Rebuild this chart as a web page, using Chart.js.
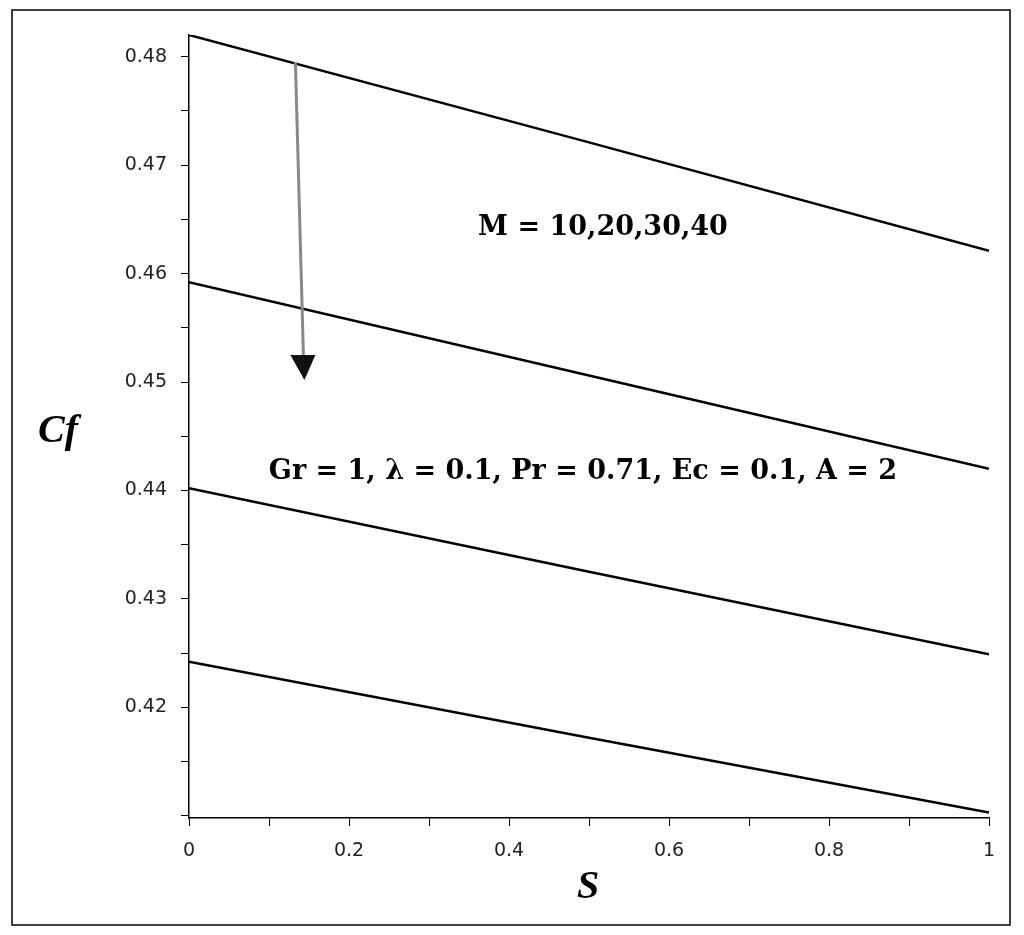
<!DOCTYPE html>
<html><head><meta charset="utf-8">
<script src="https://cdn.jsdelivr.net/npm/chart.js@4"></script>
<style>html,body{margin:0;padding:0;background:#fff}#c{display:block}</style>
</head><body>
<canvas id="c" width="1024" height="935"></canvas>
<script>
var s_values = [0, 0.5, 1];
var cf_m10 = [0.4820, 0.4721, 0.4621];
var cf_m20 = [0.4592, 0.4506, 0.4420];
var cf_m30 = [0.4402, 0.4325, 0.4249];
var cf_m40 = [0.4242, 0.4172, 0.4103];
var x_ticks = [0, 0.1, 0.2, 0.3, 0.4, 0.5, 0.6, 0.7, 0.8, 0.9, 1];
var x_labels = ['0', '0.2', '0.4', '0.6', '0.8', '1'];
var y_ticks = [0.41, 0.415, 0.42, 0.425, 0.43, 0.435, 0.44, 0.445, 0.45, 0.455, 0.46, 0.465, 0.47, 0.475, 0.48];
var y_labels = ['0.42', '0.43', '0.44', '0.45', '0.46', '0.47', '0.48'];

function mk(d) {
  return { data: d.map(function (v, i) { return { x: s_values[i], y: v }; }),
    borderColor: '#000', borderWidth: 2.5, pointRadius: 0, fill: false, tension: 0 };
}

var decor = {
  id: 'decor',
  afterDraw: function (chart) {
    var ctx = chart.ctx, xs = chart.scales.x, ys = chart.scales.y;
    ctx.save();
    ctx.strokeStyle = '#000'; ctx.lineWidth = 1.5;
    ctx.strokeRect(12, 10, 998, 915);
    // arrow
    var x1 = xs.getPixelForValue(0.133), y1 = ys.getPixelForValue(0.4795);
    var x2 = xs.getPixelForValue(0.143), y2 = ys.getPixelForValue(0.4525);
    ctx.strokeStyle = '#888'; ctx.lineWidth = 3;
    ctx.beginPath(); ctx.moveTo(x1, y1); ctx.lineTo(x2, y2); ctx.stroke();
    ctx.fillStyle = '#111';
    ctx.beginPath(); ctx.moveTo(x2 - 13, y2); ctx.lineTo(x2 + 12, y2); ctx.lineTo(x2 + 1, y2 + 25); ctx.closePath(); ctx.fill();
    ctx.fillStyle = '#000';
    ctx.font = 'bold 27px "DejaVu Serif", serif';
    ctx.textAlign = 'center'; ctx.textBaseline = 'middle';
    ctx.fillText('M = 10,20,30,40', 603, ys.getPixelForValue(0.4642));
    ctx.fillText('Gr = 1, λ = 0.1, Pr = 0.71, Ec = 0.1, A = 2', 583, ys.getPixelForValue(0.4417));
    ctx.font = 'bold italic 40px "Liberation Serif", serif';
    ctx.fillText('Cf', 58, 432);
    ctx.fillText('S', 588, 888);
    ctx.restore();
  }
};

new Chart(document.getElementById('c'), {
  type: 'line',
  data: { datasets: [mk(cf_m10), mk(cf_m20), mk(cf_m30), mk(cf_m40)] },
  options: {
    responsive: false, animation: false,
    layout: { padding: { top: 35, right: 35, left: 0, bottom: 0 } },
    plugins: { legend: { display: false }, tooltip: { enabled: false } },
    scales: {
      x: {
        type: 'linear', min: 0, max: 1,
        afterBuildTicks: function (s) { s.ticks = x_ticks.map(function (v) { return { value: v }; }); },
        afterFit: function (s) { s.height = 117; },
        border: { color: '#000', width: 1.5 },
        grid: { drawOnChartArea: false, drawTicks: true, tickLength: 8, color: '#000' },
        ticks: { color: '#222', font: { family: '"DejaVu Sans", sans-serif', size: 19 }, maxRotation: 0, autoSkip: false, padding: 14,
          callback: function (v) { var l = x_labels.indexOf(String(+v.toFixed(1))); return l >= 0 ? x_labels[l] : ''; } }
      },
      y: {
        type: 'linear', min: 0.4098, max: 0.482,
        afterBuildTicks: function (s) { s.ticks = y_ticks.map(function (v) { return { value: v }; }); },
        afterFit: function (s) { s.width = 189; },
        border: { color: '#000', width: 1.5 },
        grid: { drawOnChartArea: false, drawTicks: true, tickLength: 8, color: '#000' },
        ticks: { color: '#222', font: { family: '"DejaVu Sans", sans-serif', size: 19 }, autoSkip: false, padding: 14,
          callback: function (v) { var t = v.toFixed(3); var l = y_labels.indexOf(String(+t)); return (t.slice(-1) === '0' && l >= 0) ? y_labels[l] : ''; } }
      }
    }
  },
  plugins: [decor]
});
</script>
</body></html>
